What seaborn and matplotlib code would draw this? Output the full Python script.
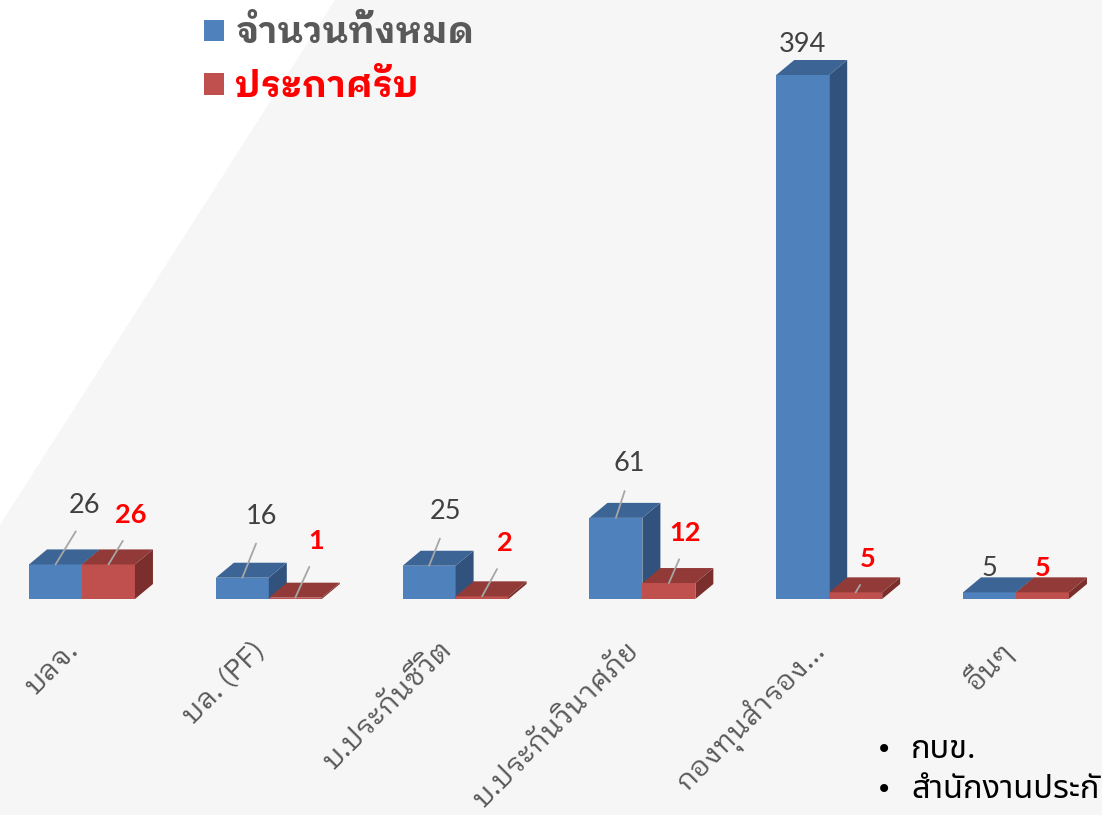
import matplotlib
matplotlib.use("Agg")
import matplotlib.pyplot as plt
from matplotlib.patches import Polygon, Patch
from matplotlib.transforms import ScaledTranslation
import seaborn as sns
import pandas as pd
import numpy as np

# ---------------- data ----------------
categories = ["บลจ.", "บล. (PF)", "บ.ประกันชีวิต", "บ.ประกันวินาศภัย", "กองทุนสำรอง...", "อื่นๆ"]
series_names = ["จำนวนทั้งหมด", "ประกาศรับ"]
total_values = [26, 16, 25, 61, 394, 5]
announced_values = [26, 1, 2, 12, 5, 5]
bullet_lines = ["กบข.", "สำนักงานประกันสังคม"]

# ---------------- style ----------------
W, H, DPI = 1102, 815, 100
BLUE, RED = "#4f81bd", "#c0504d"
BLUE_TOP, BLUE_SIDE = "#3c6595", "#31527c"
RED_TOP, RED_SIDE = "#913a37", "#7a2f2d"
BG = "#f6f6f6"
THAI_LOOP = ["IBM Plex Sans Thai Looped", "DejaVu Sans"]
THAI_PLAIN = ["Noto Sans Thai", "DejaVu Sans"]
NUM_FONT = ["Lato", "DejaVu Sans"]

# label offsets in pixels (text centre relative to front-top centre of bar)
blue_offsets = [(28.5, 59), (19.5, 61), (16.5, 54), (13.5, 54), (0, 30), (0, 24)]
red_offsets = [(22.5, 49), (20.5, 57), (22.5, 53), (16.5, 50), (12.5, 33), (0, 24)]
blue_leader = [True, True, True, True, False, False]
red_leader = [True, True, True, True, True, False]

df = pd.DataFrame({
    "cat": categories * 2,
    "series": [series_names[0]] * len(categories) + [series_names[1]] * len(categories),
    "value": total_values + announced_values,
})

fig = plt.figure(figsize=(W / DPI, H / DPI), dpi=DPI)
fig.patch.set_facecolor(BG)
fig.patches.append(Polygon([(0, 1), (335 / W, 1), (0, 1 - 525 / H)], closed=True,
                           transform=fig.transFigure, facecolor="white", edgecolor="none", zorder=0))

base_px = 599
px_per_unit = 524 / 394
ax = fig.add_axes([0, (H - base_px) / H, 1, base_px / H])
ax.set_facecolor("none")

sns.barplot(data=df, x="cat", y="value", hue="series", order=categories, hue_order=series_names,
            palette=[BLUE, RED], width=0.567, saturation=1, legend=False, ax=ax, zorder=2)

gs = 186.8
ax.set_xlim(-82 / gs, (W - 82) / gs)
ax.set_ylim(0, base_px / px_per_unit)
for s in ax.spines.values():
    s.set_visible(False)
ax.set_ylabel("")
ax.set_xlabel("")
ax.set_yticks([])
ax.tick_params(axis="x", length=0, pad=34)
ax.set_xticks(range(len(categories)))
ax.set_xticklabels(categories)
shift = ScaledTranslation(-8 / DPI, 0, fig.dpi_scale_trans)
for lab in ax.get_xticklabels():
    lab.set_rotation(45)
    lab.set_ha("right")
    lab.set_va("center")
    lab.set_rotation_mode("anchor")
    lab.set_fontsize(20.5)
    lab.set_family(THAI_LOOP)
    lab.set_color("#595959")
    lab.set_transform(lab.get_transform() + shift)

# ---- pseudo 3D faces ----
dxd = 18 / gs
dyd = 15 / px_per_unit
containers = ax.containers
for ci, (cont, top_c, side_c) in enumerate(zip(containers, [BLUE_TOP, RED_TOP], [BLUE_SIDE, RED_SIDE])):
    z = 2 + ci * 3
    for bar in cont:
        x0 = bar.get_x()
        x1 = x0 + bar.get_width()
        h = bar.get_height()
        bar.set_zorder(z)
        bar.set_edgecolor("none")
        side = Polygon([(x1, 0), (x1, h), (x1 + dxd, h + dyd), (x1 + dxd, dyd)], closed=True,
                       facecolor=side_c, edgecolor="none", zorder=z + 1)
        top = Polygon([(x0, h), (x1, h), (x1 + dxd, h + dyd), (x0 + dxd, h + dyd)], closed=True,
                      facecolor=top_c, edgecolor="none", zorder=z + 2)
        ax.add_patch(side)
        ax.add_patch(top)

# ---- value labels ----
def label(cont, values, offsets, leaders, color, weight):
    for bar, v, (ox, oy), lead in zip(cont, values, offsets, leaders):
        cx = bar.get_x() + bar.get_width() / 2
        h = bar.get_height()
        kw = dict(xy=(cx, h), xytext=(ox, oy), textcoords="offset pixels",
                  ha="center", va="center", fontsize=19.5, color=color,
                  fontweight=weight, family=NUM_FONT, zorder=20, annotation_clip=False)
        if lead:
            kw["arrowprops"] = dict(arrowstyle="-", color="#a6a6a6", lw=1.3,
                                    relpos=(0.5, 0.0), shrinkA=9, shrinkB=0)
        ax.annotate(str(v), **kw)

label(containers[0], total_values, blue_offsets, blue_leader, "#404040", "normal")
label(containers[1], announced_values, red_offsets, red_leader, "#ff0000", "bold")

# ---- legend ----
handles = [Patch(facecolor=BLUE, edgecolor="none"), Patch(facecolor=RED, edgecolor="none")]
leg = fig.legend(handles, series_names, loc="upper left", bbox_to_anchor=(204 / W, 1 - 16 / H),
                 frameon=False, prop={"family": THAI_LOOP, "weight": "bold", "size": 26},
                 handlelength=0.55, handleheight=0.55, handletextpad=0.3, labelspacing=0.55,
                 borderpad=0, borderaxespad=0)
for t, c in zip(leg.get_texts(), ["#595959", "#ff0000"]):
    t.set_color(c)

# ---- bullet notes ----
for i, line in enumerate(bullet_lines):
    y = 1 - (750 + 40 * i) / H
    fig.text(876 / W, y, "•", ha="left", va="center", fontsize=20, color="black", family=["DejaVu Sans"])
    fig.text(911 / W, y, line, ha="left", va="center", fontsize=23.5, color="black",
             family=THAI_PLAIN, fontweight="semibold")

fig.savefig("out.png", dpi=DPI, facecolor=fig.get_facecolor())
